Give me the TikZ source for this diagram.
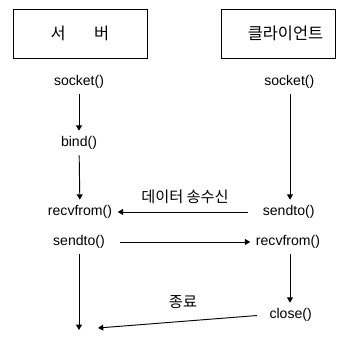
\documentclass[tikz,border=0pt]{standalone}
\usepackage{fontspec}
\setmainfont{Liberation Sans}
\newfontfamily\kr{Noto Sans CJK KR}
\usetikzlibrary{arrows.meta,positioning}

\begin{document}
\begin{tikzpicture}[>={Triangle[length=4.5pt,width=5pt]},font=\fontsize{12}{14}\selectfont,line width=0.8pt]
\tikzstyle{hd}=[draw,minimum height=1.47cm,font=\kr\fontsize{14}{16}\selectfont]
\tikzstyle{fn}=[inner sep=4.5pt]
\tikzstyle{lb}=[font=\kr\fontsize{13}{15}\selectfont]
\useasboundingbox (0,0) rectangle (10.89,10.2);
\node[hd,minimum width=4.02cm] (srv) at (2.4,9.195) {서\hspace{0.85cm}버};
\node[hd,minimum width=3.42cm] (cli) at (8.34,9.195) {\hspace{0.45cm}클라이언트};
% server side
\node[fn] (ssock) at (2.37,7.74) {socket()};
\node[fn] (sbind) at (2.37,5.91) {bind()};
\node[fn] (srecv) at (2.40,3.84) {recvfrom()};
\node[fn] (ssend) at (2.37,2.94) {sendto()};
\coordinate (send) at (2.37,0.30);
% client side
\node[fn] (csock) at (8.68,7.74) {socket()};
\node[fn] (csend) at (8.66,3.84) {sendto()};
\node[fn] (crecv) at (8.64,2.94) {recvfrom()};
\node[fn] (cclose) at (8.72,0.75) {close()};
\coordinate (cend) at (2.94,0.36);
\draw[->] (ssock) -- (sbind); \draw[->] (sbind) -- (srecv); \draw[->] (ssend) -- (send);
\draw[->] (csock.south -| 8.70,0) -- (csend.north -| 8.70,0); \draw[->] (crecv.south -| 8.70,0) -- (cclose.north -| 8.70,0);
\draw[->,shorten <=8pt] (csend.west) -- (srecv.east); \draw[->,shorten <=8pt] (ssend.east) -- (crecv.west);
\draw[->,shorten <=6pt] (cclose.west) -- (cend);
\node[lb] (lbdata) at (5.55,4.29) {데이터 송수신};
\node[lb] (lbend) at (5.49,1.14) {종료};
\end{tikzpicture}
\end{document}
